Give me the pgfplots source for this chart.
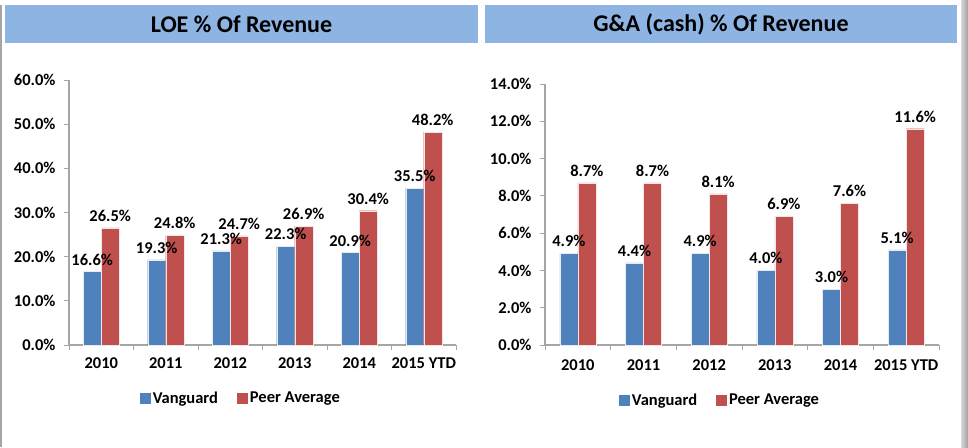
\documentclass[border=0pt]{standalone}
\usepackage{pgfplots}
\pgfplotsset{compat=1.18}
\usepackage{fontspec}
\setmainfont{Carlito}
\definecolor{vblue}{HTML}{4F81BD}
\definecolor{pred}{HTML}{C0504D}
\definecolor{tblue}{HTML}{8EB4E3}
\definecolor{axgray}{HTML}{A6A6A6}
\newcommand{\lab}{\bfseries\fontsize{16.5}{18}\selectfont}
\pgfplotsset{
  panel/.style={
    scale only axis,
    ybar=0pt, bar width=18pt,
    xmin=-0.5, xmax=5.5, ymin=0,
    xtick={0,...,5},
    xticklabels={2010,2011,2012,2013,2014,2015 YTD},
    major x tick style={draw=none},
    minor xtick={-0.5,0.5,...,5.5},
    minor x tick style={draw=axgray, line width=0.8pt},
    axis x line*=bottom, axis y line*=left,
    axis line style={draw=axgray, line width=1.2pt, -},
    y tick style={draw=axgray, line width=0.8pt},
    tick align=outside, major tick length=5pt, minor tick length=5pt,
    /pgf/number format/assume math mode=true,
    yticklabel={\pgfmathprintnumber[fixed,fixed zerofill,precision=1]{\tick}\%},
    ticklabel style={font=\lab},
    xticklabel style={yshift=-4pt},
    yticklabel style={xshift=-5pt},
    nodes near coords={\pgfmathprintnumber[fixed,fixed zerofill,precision=1]{\pgfplotspointmeta}\%},
    every node near coord/.append style={font=\lab, yshift=3pt, text=black},
    legend columns=2,
    legend style={draw=none, fill=none, font=\lab, anchor=center,
      /tikz/every even column/.append style={column sep=17pt}},
    legend image code/.code={\fill[##1,draw=none] (0pt,-5.5pt) rectangle (11pt,5.5pt);},
  },
  vbar/.style={fill=vblue, draw=white!85!vblue, line width=0.4pt},
  pbar/.style={fill=pred, draw=white!85!pred, line width=0.4pt},
}
\begin{document}
\begin{tikzpicture}
\path[use as bounding box] (0pt,0pt) rectangle (968pt,447pt);
% panel borders
\fill[gray!70] (0pt,0pt) rectangle (2pt,442pt);
\shade[left color=gray!30, right color=gray!75] (961pt,0pt) rectangle (968pt,447pt);
% title bars
\fill[tblue] (5pt,404pt) rectangle (478pt,442pt);
\fill[tblue] (485pt,404pt) rectangle (957pt,442pt);
\node[font=\bfseries\fontsize{24}{27}\selectfont] at (241.5pt,423pt) {LOE \% Of Revenue};
\node[font=\bfseries\fontsize{24}{27}\selectfont] at (721pt,423pt) {G\&A (cash) \% Of Revenue};

\begin{axis}[panel, at={(69pt,102pt)}, anchor=south west, width=387pt, height=265pt,
  ymax=60, ytick={0,10,...,60},
  legend style={at={(0.444,-0.2)}}]
\addplot[vbar] coordinates {(0,16.6) (1,19.3) (2,21.3) (3,22.3) (4,20.9) (5,35.5)};
\addplot[pbar] coordinates {(0,26.5) (1,24.8) (2,24.7) (3,26.9) (4,30.4) (5,48.2)};
\legend{Vanguard,Peer Average}
\end{axis}

\begin{axis}[panel, at={(545pt,102pt)}, anchor=south west, width=394pt, height=261pt,
  ymax=14, ytick={0,2,...,14},
  xticklabel style={yshift=-2pt},
  legend style={at={(0.444,-0.211)}}]
\addplot[vbar] coordinates {(0,4.9) (1,4.4) (2,4.9) (3,4.0) (4,3.0) (5,5.1)};
\addplot[pbar] coordinates {(0,8.7) (1,8.7) (2,8.1) (3,6.9) (4,7.6) (5,11.6)};
\legend{Vanguard,Peer Average}
\end{axis}
\end{tikzpicture}
\end{document}
